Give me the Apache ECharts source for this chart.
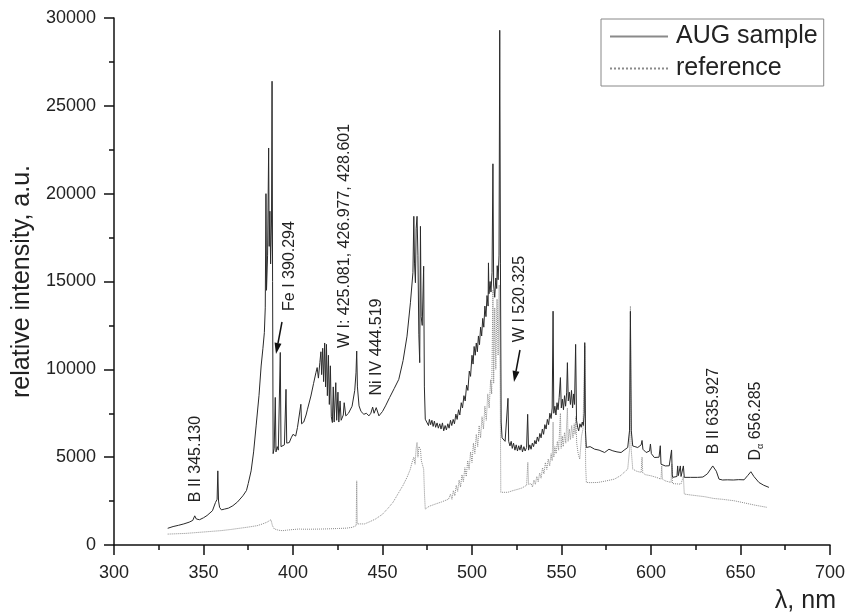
<!DOCTYPE html>
<html>
<head>
<meta charset="utf-8">
<script src="https://cdn.jsdelivr.net/npm/echarts@6/dist/echarts.min.js"></script>
<style>
html,body{margin:0;padding:0;background:#fff;}
#chart{width:848px;height:614px;}
</style>
</head>
<body>
<div id="chart"></div>
<script>
// ---- data (wavelength in nm, relative intensity a.u.) ----
var augWavelength = [
330,333,336,339,342,344,345.1,346,347.8,350,352,355,356.7,357.6,358.0,358.4,359,360,361.8,364,366.4,369,372,374,375,376.6,378,379.4,381,382.2,383.2,384,384.5,384.9,385.2,385.8,386.4,386.7,387.1,387.5,388.0,388.3,388.6,388.9,389.5,390.1,390.5,391.2,391.8,392.9,393.3,394.2,395.2,396.1,396.5,397.9,399,400,401.5,402.5,403.5,404.4,404.8,406,407.3,408.1,409,410,411.5,412.8,413.5,414.2,415,415.6,416,416.6,417.1,417.7,418.2,418.7,419.2,419.8,420.3,420.9,421.4,422,422.5,423,423.9,424.4,425.1,425.6,426.3,426.9,428.1,428.6,429.5,431,433,434.5,435.2,435.6,436.0,436.9,438,439.6,441,442.4,443.5,444.5,445.3,446.5,448,450,451.7,454,456.5,459.1,461.5,463.7,465.6,467,467.5,467.9,468.4,468.8,469.3,469.8,470.3,470.8,471.2,471.6,472.2,473,473.4,473.9,
475,475.7,476.2,476.9,477.6,478.3,479,479.7,480.5,481.2,482,482.7,483.5,484.2,485,485.7,486.5,487.2,488,488.7,489.5,490.2,491,491.7,492.5,493.2,494,494.7,495.5,496.2,497,497.7,498.5,499.2,500,500.6,501.2,501.8,502.4,503,503.6,504.2,504.8,505.4,506,506.6,507.2,507.8,508.4,509,509.2,509.5,510.1,510.6,511.2,511.7,512.1,512.7,513.3,513.8,514.1,514.6,515.1,515.5,515.9,516.3,516.8,
518.5,519.6,520.1,520.5,521.2,521.9,522.5,523.2,524,524.7,525.4,526.1,526.8,527.5,528.2,529,529.7,530.5,531.1,531.6,532.3,533,533.7,534.4,535.1,535.8,536.5,537.2,537.9,538.6,539.3,540,540.7,541.4,542.1,542.8,543.5,544.2,544.8,545.3,545.7,546.3,546.9,547.5,548.1,548.7,549.4,549.9,550.5,551.1,551.7,552.3,552.9,553.3,553.8,554.4,555,555.6,556.2,556.8,557.3,557.9,558.4,559,559.6,560.3,561,561.6,562.2,562.7,563,563.4,563.9,
566,568.5,571,574.1,576.5,578.7,581,583.3,585,587,588,588.5,589.0,589.8,591,592.6,594.5,595,595.5,597.3,599.2,599.7,600.2,601.9,604.5,605.2,605.6,606,608,610.2,611.5,611.9,612.1,614.5,614.9,615.3,616.4,616.8,618.1,618.6,622,626,629,631.5,634.5,636.5,638,640,642.7,646,649,652,654,655.8,657.5,660.3,663,665.9
];
var augIntensity = [
950,1050,1120,1200,1300,1400,1660,1480,1440,1550,1680,1950,2420,2600,4220,2500,2140,2000,2045,2100,2235,2450,2800,3100,3500,4220,5300,6780,8500,10190,11200,12090,13500,20000,14500,16500,22600,17000,19000,16000,18500,26400,15000,5200,5500,8400,5300,5600,5400,10960,5600,5550,5700,8860,5800,5830,6100,6300,6200,6690,6780,8010,6900,7000,7400,7730,7800,8480,9200,9810,10100,9500,10380,11000,9700,11200,9300,11500,9000,11420,8500,10800,8000,10200,7300,6970,9000,7000,9240,7100,8700,7000,8200,7100,7400,8100,7350,7500,7900,8800,9800,11040,9000,7920,7600,7440,7500,7350,7500,7850,7500,7820,7350,7600,7920,8400,8900,9430,10500,11890,13790,15500,18710,16000,14930,18000,18710,16500,12000,10380,18140,13000,12500,15870,9000,7160,
7050,6800,7150,6850,7100,6750,7050,6700,6950,6650,6900,6600,6950,6500,6800,6550,6900,6650,7100,6800,7150,6900,7450,7150,7700,7400,8100,7800,8500,8200,9100,8800,9900,9600,10800,10300,11300,10800,11500,11000,11900,11400,12400,11900,12900,12400,13600,13000,14200,13600,16060,14300,15000,14400,15500,21700,14800,14100,15200,14600,15900,15100,16500,29300,16000,7000,6100,
5900,6000,8350,5900,5640,5900,5500,5800,5400,5700,5350,5650,5400,5700,5300,5600,5350,5550,7440,5400,5700,5450,5800,5600,5950,5750,6150,5900,6350,6100,6600,6300,6850,6600,7150,6850,7500,7200,7800,13310,7500,7900,7400,8100,7700,8400,9530,7800,8300,7700,8500,7900,8700,10380,8200,8700,8000,8800,7800,8600,8000,11420,7100,6700,6500,6900,6700,7000,6800,7500,11520,6500,5550,
5600,5455,5400,5265,5450,5360,5300,5265,5400,5550,6500,13300,6500,5640,5600,5550,5700,5950,5450,5265,5350,5750,5200,4980,5000,5650,4600,4510,4500,4510,5410,4000,3850,3900,4500,3950,4500,3900,4500,3850,3850,3850,3870,4050,4500,4200,3750,3700,3710,3700,3720,3710,3950,4170,3900,3560,3400,3280
];
var refWavelength = [
330,335,340,345,350,355,360,365,370,375,380,383,385.5,387.7,388.5,389.6,392,394.2,397,400,403.5,404.2,405,410,416.4,420,425,430,433.1,435.3,435.6,435.9,436.9,440,443,446.1,450,453.5,456,459.1,461.5,463.7,465.5,466.5,467.5,468.2,468.8,469.3,469.8,470.4,471.2,471.7,472.4,473,473.5,473.9,476,479.5,483,486.9,
488,488.8,489.6,490.4,491.2,492,492.8,493.6,494.4,495.2,496,496.8,497.6,498.4,499.2,500,500.8,501.6,502.4,503.2,504,504.8,505.6,506.4,507.2,508,508.8,509.6,510.4,511,511.7,512.1,512.7,513.3,514,514.6,515.2,515.7,516.1,
517,520,523,525.9,528,530.5,531.2,531.6,533,533.8,534.6,535.4,536.2,537,537.8,538.6,539.4,540.2,541,541.8,542.6,543.4,544.2,544.8,545.3,545.7,546.3,547,547.7,548.4,549.4,549.8,550.4,551,551.7,552.4,553.3,553.7,554.4,555,555.7,556.4,557.1,557.6,558,558.5,559.3,560.2,561.2,562,563,563.5,563.9,
566,570.4,575,579.6,583,587,588.1,588.5,588.9,589.8,592,594.5,595,595.4,597,600,603,605.6,606,606.4,608,611.2,611.6,612,614,616.7,618.1,618.6,622,626,630,635,640,646.4,652,658,665
];
var refIntensity = [
620,640,660,700,740,780,820,880,950,1020,1100,1200,1300,1440,1100,910,840,815,850,880,910,1000,900,900,910,920,940,960,1005,1100,3650,1200,1100,1200,1330,1480,1750,2140,2450,2990,3400,3850,4300,4700,5000,4600,5500,5835,5000,5600,5455,4800,4900,4320,2800,2045,2200,2330,2450,2610,
2900,2600,3100,2800,3400,3050,3700,3300,4000,3600,4400,3900,4800,4300,5300,4700,5800,5200,6300,5600,6800,6100,7300,6600,7900,7100,8600,7800,9400,8600,14500,9200,13500,10000,14000,10800,14800,10000,3000,
2900,3000,3100,3180,3250,3400,4700,3450,3500,3300,3700,3450,3900,3600,4100,3800,4400,4050,4700,4300,4900,4500,5200,4800,7000,5000,5600,5200,5900,5400,7500,5500,6200,5600,6400,5800,7800,5900,6600,6000,6800,6100,6900,6300,7300,5800,5200,4890,6200,6590,11330,4500,3560,
3550,3560,3650,3750,3950,4320,5500,13600,5500,4320,4200,4130,5000,4100,4000,3940,3850,3750,4500,3750,3650,3560,4600,3500,3480,3465,3900,2900,2850,2800,2750,2650,2600,2520,2400,2270,2140
];
var xTicks = {min: 300, max: 700, step: 50};
var yTicks = {min: 0, max: 30000, step: 5000};
var seriesNames = ['AUG sample', 'reference'];
var annotationTexts = [
  'B II 345.130',
  'Fe I 390.294',
  'W I: 425.081, 426.977, 428.601',
  'Ni IV 444.519',
  'W I 520.325',
  'B II 635.927'
];

function pairs(xs, ys) { return xs.map(function (x, i) { return [x, ys[i]]; }); }

var FONT = '"Liberation Sans", Arial, sans-serif';
var chart = echarts.init(document.getElementById('chart'), null, {renderer: 'canvas'});

// annotation placement (text centre in pixels, rotated 90deg)
var annPos = [[196, 459], [290, 266], [345, 236], [377, 347], [520, 299], [714, 411]];
var graphics = annotationTexts.map(function (t, i) {
  return {
    type: 'text', x: annPos[i][0], y: annPos[i][1], rotation: Math.PI / 2,
    style: {text: t, font: '16px ' + FONT, fill: '#222', textAlign: 'center', textVerticalAlign: 'middle'}
  };
});
graphics.push({
  type: 'text', x: 756, y: 421, rotation: Math.PI / 2,
  style: {
    text: '{d|D}{s|α}{d| 656.285}',
    textAlign: 'center', textVerticalAlign: 'middle',
    rich: {
      d: {font: '16px ' + FONT, fill: '#222', height: 18, verticalAlign: 'middle'},
      s: {font: '9px ' + FONT, fill: '#222', padding: [10, 0, 0, 0], verticalAlign: 'bottom'}
    }
  }
});
function arrow(x1, y1, x2, y2) {
  var dx = x2 - x1, dy = y2 - y1, len = Math.sqrt(dx * dx + dy * dy);
  var ux = dx / len, uy = dy / len, hl = 11, hw = 3.5;
  var bx = x2 - ux * hl, by = y2 - uy * hl;
  return [
    {type: 'line', shape: {x1: x1, y1: y1, x2: bx, y2: by}, style: {stroke: '#111', lineWidth: 1.5}},
    {type: 'polygon', shape: {points: [[x2, y2], [bx - uy * hw, by + ux * hw], [bx + uy * hw, by - ux * hw]]}, style: {fill: '#111'}}
  ];
}
graphics = graphics.concat(arrow(282, 322, 276, 354)).concat(arrow(520, 350, 514, 382));

function plain(v) { return String(v); }

chart.setOption({
  backgroundColor: '#fff',
  animation: false,
  textStyle: {fontFamily: FONT},
  grid: {left: 114, right: 15, top: 18, bottom: 68},
  legend: {
    data: seriesNames,
    orient: 'vertical',
    left: 601, top: 19,
    padding: [5, 6, 5, 8],
    itemGap: 7,
    itemWidth: 58, itemHeight: 14,
    itemStyle: {opacity: 0},
    lineStyle: {color: '#8a8a8a'},
    borderColor: '#888', borderWidth: 1,
    textStyle: {fontSize: 25, color: '#222', fontFamily: FONT, padding: [0, 0, 0, 3]}
  },
  xAxis: {
    type: 'value', min: xTicks.min, max: xTicks.max, interval: xTicks.step,
    name: 'λ, nm', nameLocation: 'end', nameGap: 6,
    nameTextStyle: {fontSize: 25, color: '#222', align: 'right', verticalAlign: 'top', padding: [44, 0, 0, 0]},
    axisLine: {lineStyle: {color: '#111', width: 1.5}},
    axisTick: {length: 10, lineStyle: {color: '#111', width: 1.5}},
    minorTick: {show: true, splitNumber: 2, length: 5, lineStyle: {color: '#111', width: 1.5}},
    axisLabel: {fontSize: 18, color: '#222', margin: 19, formatter: plain},
    splitLine: {show: false}
  },
  yAxis: {
    type: 'value', min: yTicks.min, max: yTicks.max, interval: yTicks.step,
    name: 'relative intensity, a.u.', nameLocation: 'middle', nameGap: 78,
    nameTextStyle: {fontSize: 25, color: '#222'},
    axisLine: {show: true, lineStyle: {color: '#111', width: 1.5}},
    axisTick: {show: true, length: 10, lineStyle: {color: '#111', width: 1.5}},
    minorTick: {show: true, splitNumber: 2, length: 5, lineStyle: {color: '#111', width: 1.5}},
    axisLabel: {fontSize: 18, color: '#222', margin: 18, formatter: plain},
    splitLine: {show: false}
  },
  series: [
    {
      name: seriesNames[1], type: 'line', symbol: 'none', z: 2,
      data: pairs(refWavelength, refIntensity),
      lineStyle: {color: '#8a8a8a', width: 1, type: 'dotted'},
      itemStyle: {color: '#8a8a8a'}
    },
    {
      name: seriesNames[0], type: 'line', symbol: 'none', z: 3,
      data: pairs(augWavelength, augIntensity),
      lineStyle: {color: '#2a2a2a', width: 1},
      itemStyle: {color: '#777'}
    }
  ],
  graphic: graphics
});
</script>
</body>
</html>
